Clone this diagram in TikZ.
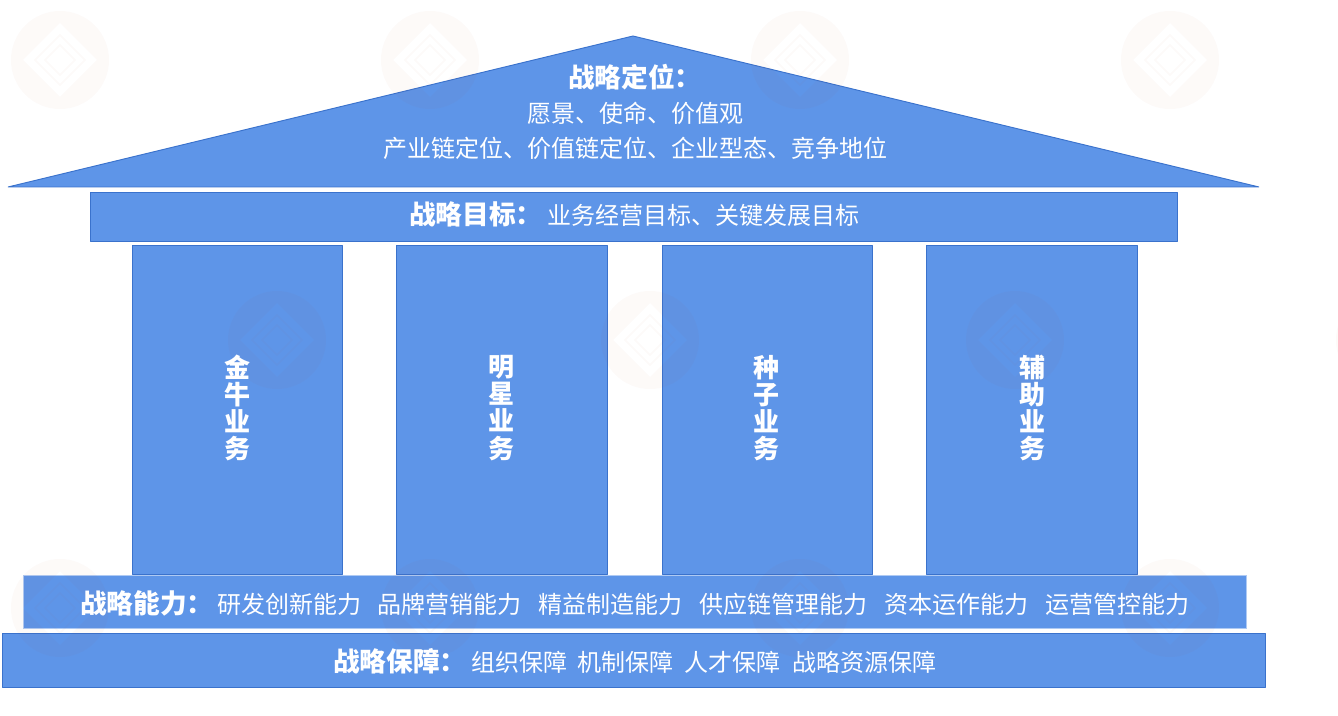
\documentclass[tikz,border=0pt]{standalone}
\usepackage{fontspec}
\setmainfont{Noto Sans CJK SC}
\definecolor{blockblue}{HTML}{5E95E8}
\definecolor{edgeblue}{HTML}{3A72CC}
\definecolor{markred}{HTML}{C84A20}
\tikzset{
  x=0.75pt,y=-0.75pt,
  block/.style={fill=blockblue,draw=edgeblue,line width=0.7pt,line join=bevel},
  softblock/.style={fill=blockblue,draw=blockblue!50!white,line width=0.7pt},
  txt/.style={text=white,inner sep=0pt,font=\fontsize{18}{20}\selectfont},
  head/.style={text=white,inner sep=0pt,font=\fontsize{20}{22}\selectfont\bfseries},
  vert/.style={text=white,inner sep=0pt,align=center,font=\fontsize{19.5}{20.4}\selectfont\bfseries},
}
\newcommand{\wmark}[2]{%
  \fill[markred,opacity=0.028,even odd rule] (#1,#2) circle[radius=49]
     (#1-37,#2) -- (#1,#2-37) -- (#1+37,#2) -- (#1,#2+37) -- cycle;
  \draw[markred,opacity=0.022,line width=1.5pt] (#1-25,#2) -- (#1,#2-25) -- (#1+25,#2) -- (#1,#2+25) -- cycle;
  \draw[markred,opacity=0.022,line width=1.5pt] (#1-15,#2) -- (#1,#2-15) -- (#1+15,#2) -- (#1,#2+15) -- cycle;
}
\begin{document}
\begin{tikzpicture}
\useasboundingbox (0,0) rectangle (1338,716);
\fill[white] (0,0) rectangle (1338,716);
\clip (0,0) rectangle (1338,716);
% roof
\filldraw[block] (8,187) -- (633,36) -- (1259,187) -- cycle;
% goal band
\filldraw[block] (90,192) rectangle (1177,241);
% pillars
\filldraw[block] (132,245) rectangle (342,574);
\filldraw[block] (396,245) rectangle (607,574);
\filldraw[block] (662,245) rectangle (872,574);
\filldraw[block] (926,245) rectangle (1137,574);
% capability band
\filldraw[softblock] (23,575) rectangle (1246,628);
% support band
\filldraw[block] (2,633) rectangle (1265,687);
% watermark logos
\wmark{60}{60}\wmark{430}{60}\wmark{800}{60}\wmark{1170}{60}
\wmark{277}{340}\wmark{650}{340}\wmark{1015}{340}\wmark{1385}{340}
\wmark{60}{608}\wmark{430}{608}\wmark{800}{608}\wmark{1170}{608}
% texts
\node[head,anchor=west] (roofhead) at (568,77) {战略定位：};
\node[txt] (roofa) at (635,113) {愿景、使命、价值观};
\node[txt] (roofb) at (635,148) {产业链定位、价值链定位、企业型态、竞争地位};
\node[head,anchor=west] (goalhead) at (409,214) {战略目标：};
\node[txt,anchor=west] (goaltxt) at (547,215) {业务经营目标、关键发展目标};
\node[vert] (p1) at (237,408) {金\\牛\\业\\务};
\node[vert] (p2) at (501,408) {明\\星\\业\\务};
\node[vert] (p3) at (766,408) {种\\子\\业\\务};
\node[vert] (p4) at (1032,408) {辅\\助\\业\\务};
\node[head,anchor=west] (caphead) at (80,603) {战略能力：};
\node[txt,anchor=west] (c1) at (217,604) {研发创新能力};
\node[txt,anchor=west] (c2) at (377,604) {品牌营销能力};
\node[txt,anchor=west] (c3) at (538,604) {精益制造能力};
\node[txt,anchor=west] (c4) at (699,604) {供应链管理能力};
\node[txt,anchor=west] (c5) at (884,604) {资本运作能力};
\node[txt,anchor=west] (c6) at (1045,604) {运营管控能力};
\node[head,anchor=west] (suphead) at (333,661) {战略保障：};
\node[txt,anchor=west] (s1) at (471,662) {组织保障};
\node[txt,anchor=west] (s2) at (577,662) {机制保障};
\node[txt,anchor=west] (s3) at (684,662) {人才保障};
\node[txt,anchor=west] (s4) at (792,662) {战略资源保障};
\end{tikzpicture}
\end{document}
